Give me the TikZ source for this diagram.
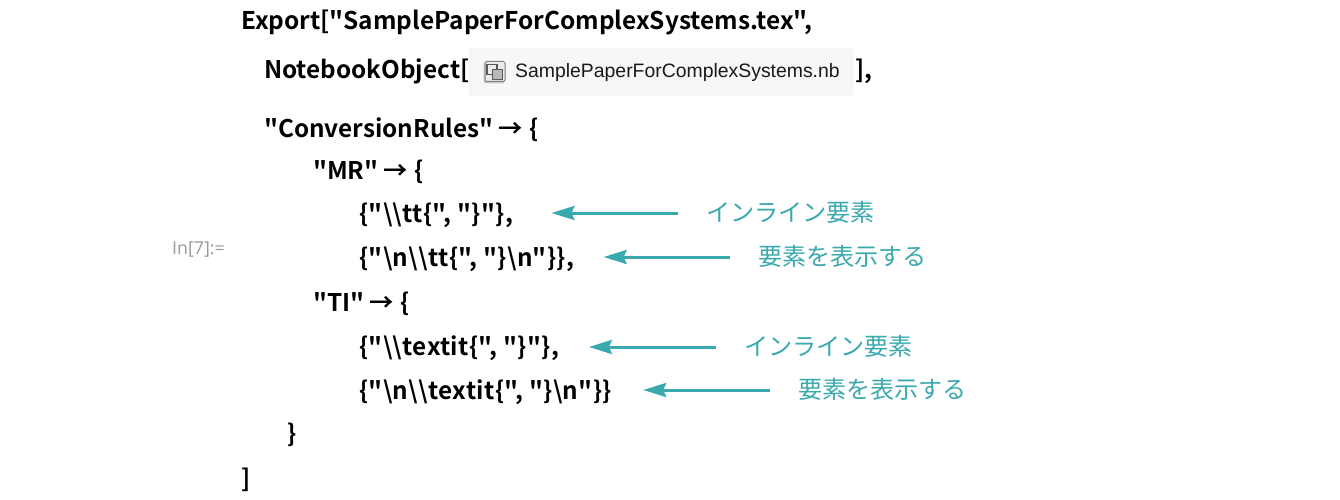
\documentclass[tikz,border=0pt]{standalone}
\usepackage{fontspec}
\usepackage{tikz}
\usetikzlibrary{arrows.meta}
\setmainfont{Liberation Sans}
\newfontfamily\codefont{Noto Sans CJK JP}[BoldFont={Noto Sans CJK JP Bold}]
\newfontfamily\notefont{Noto Sans CJK JP}
\newfontfamily\cellfont{Open Sans}
\definecolor{teal1}{HTML}{3AA9AE}
\newcommand{\codearrow}{→\kern1pt}
\tikzset{
  code/.style={anchor=base west, inner sep=0pt, font=\codefont\bfseries\fontsize{24.3}{24}\selectfont, text=black},
  codewide/.style={code, font=\codefont\bfseries\fontsize{24.3}{24}\selectfont\addfontfeature{LetterSpace=1.6}},
  note/.style={anchor=west, inner sep=0pt, font=\notefont\fontsize{24.1}{24}\selectfont, text=teal1},
  callout/.style={-{Stealth[length=23pt,width=14pt,inset=3pt]}, teal1, line width=3pt},
}
\begin{document}
\begin{tikzpicture}[x=1pt,y=-1pt]
\useasboundingbox (0,0) rectangle (1340,500);

% code lines
\node[code, font=\codefont\bfseries\fontsize{24.4}{24}\selectfont] (export) at (241,30) {Export["SamplePaperForComplexSystems.tex",};
\node[code] (nbobj) at (264,79) {NotebookObject[};
\node[code] (rules) at (264,137) {"ConversionRules" \codearrow\ \{};
\node[code] (mr) at (313,179) {"MR" \codearrow\ \{};
\node[codewide] (mra) at (359,222) {\{"\textbackslash\textbackslash tt\{", "\}"\},};
\node[codewide] (mrb) at (359,266) {\{"\textbackslash n\textbackslash\textbackslash tt\{", "\}\textbackslash n"\}\},};
\node[code] (ti) at (313,311) {"TI" \codearrow\ \{};
\node[codewide] (tia) at (359,355) {\{"\textbackslash\textbackslash textit\{", "\}"\},};
\node[codewide] (tib) at (359,399) {\{"\textbackslash n\textbackslash\textbackslash textit\{", "\}\textbackslash n"\}\}};
\node[code] (close) at (287,442) {\}};
\node[code] (end) at (241,487) {]};

% notebook chip
\node[draw=black!10, fill=black!3, rounded corners=4pt, minimum width=384pt, minimum height=48pt, inner sep=0pt] (chip) at (661,72) {};
\node[anchor=base west, inner sep=0pt, font=\fontsize{19.4}{19}\selectfont, text=black!90] (chipname) at (515,78) {SamplePaperForComplexSystems.nb};
\node[code] (nbend) at (855,79) {],};
\node[fill=black!22, rounded corners=2pt, minimum size=21pt, inner sep=0pt] (iconshade) at (494,73) {};
\node[draw=black!50, fill=black!8, rounded corners=1.5pt, line width=1pt, minimum size=20pt, inner sep=0pt] (icon) at (495,71.5) {};
\node[draw=black!65, line width=1.2pt, minimum size=10pt, inner sep=0pt] (iconb) at (492,69.5) {};
\node[draw=black!65, fill=black!28, line width=1.2pt, minimum size=10pt, inner sep=0pt] (iconf) at (497.5,74.5) {};

% cell label
\node[anchor=base west, inner sep=0pt, font=\cellfont\fontsize{17.8}{17}\selectfont, text=black!40] (cell) at (172,254) {In[7]:=};

% notes
\node[note] (noteA) at (706,212) {インライン要素};
\node[note] (noteB) at (758,256) {要素を表示する};
\node[note] (noteC) at (744,346) {インライン要素};
\node[note] (noteD) at (798,389) {要素を表示する};

\draw[callout, shorten <=28pt, shorten >=38pt] ([yshift=-1pt]noteA.west) -- ([yshift=-1pt]noteA.west -| mra.east);
\draw[callout, shorten <=28pt, shorten >=29pt] ([yshift=-1pt]noteB.west) -- ([yshift=-1pt]noteB.west -| mrb.east);
\draw[callout, shorten <=28pt, shorten >=29.5pt] ([yshift=-1pt]noteC.west) -- ([yshift=-1pt]noteC.west -| tia.east);
\draw[callout, shorten <=28pt, shorten >=31pt] ([yshift=-1pt]noteD.west) -- ([yshift=-1pt]noteD.west -| tib.east);

\end{tikzpicture}
\end{document}
